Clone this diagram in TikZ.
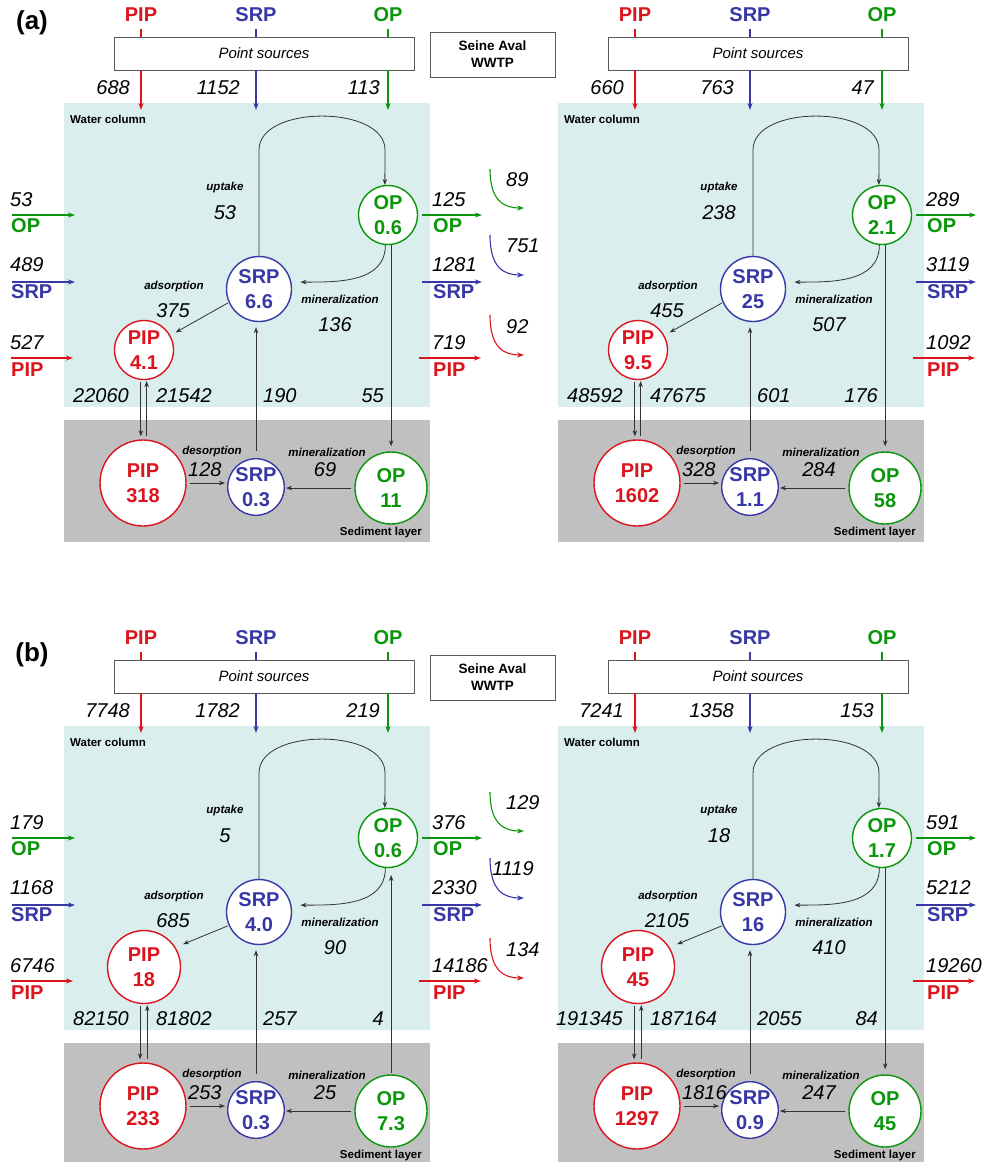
\documentclass[tikz,border=0pt]{standalone}
\usepackage{fontspec}
\setmainfont{Liberation Sans}
\usetikzlibrary{arrows.meta}
\definecolor{cpip}{RGB}{220,20,30}
\definecolor{csrp}{RGB}{55,55,165}
\definecolor{cop}{RGB}{10,150,10}
\definecolor{water}{RGB}{218,238,238}
\definecolor{sed}{RGB}{192,192,192}
\tikzset{
  big/.style={font=\fontsize{20}{26}\selectfont\bfseries, inner sep=0pt},
  num/.style={font=\fontsize{20}{24}\selectfont\itshape, inner sep=0pt},
  proc/.style={font=\fontsize{11.5}{13}\selectfont\bfseries\itshape, inner sep=0pt},
  lbl/.style={font=\fontsize{11.5}{13}\selectfont\bfseries, inner sep=0pt},
  panel/.style={font=\fontsize{26}{30}\selectfont\bfseries, inner sep=0pt},
  srcbox/.style={draw=black!65, line width=0.9pt, fill=white, inner sep=0pt, align=center},
  pool/.style={circle, fill=white, line width=1.4pt, inner sep=0pt, align=center, font=\fontsize{20}{25}\selectfont\bfseries},
  flow/.style={-{Stealth[length=6pt,width=4.5pt]}, line width=0.8pt, black!80},
  cflow/.style={-{Stealth[length=7pt,width=5pt]}, line width=1.3pt},
  cline/.style={line width=1.3pt},
}
\newif\ifopup
\def\pfx{aL}
\def\sedbot{542}
\def\pipy{350}
\def\pipd{59pt}
\def\adsy{287}
\def\adsny{311}
\def\adsang{29}
\def\adsgap{6pt}
% ---------- frame of one panel ----------
\newcommand{\panelframe}[3]{%
  \fill[water] (64,103) rectangle (430,407);
  \fill[sed] (64,420) rectangle (430,\sedbot);
  \node[lbl, anchor=west] (\pfx-wc) at (70,119) {Water column};
  \node[lbl, anchor=east] (\pfx-sl) at (422,533) {Sediment layer};
  \node[srcbox, minimum width=300pt, minimum height=33pt, font=\fontsize{15}{18}\selectfont\itshape] (\pfx-ps) at (264,53.5) {Point sources};
  \node[big, text=cpip] (\pfx-tP) at (141,15) {PIP};
  \node[big, text=csrp] (\pfx-tS) at (256,15) {SRP};
  \node[big, text=cop] (\pfx-tO) at (388,15) {OP};
  \coordinate (\pfx-kP) at (141,29);
  \coordinate (\pfx-kS) at (256,29);
  \coordinate (\pfx-kO) at (388,29);
  \coordinate (\pfx-eP) at (141,110);
  \coordinate (\pfx-eS) at (256,110);
  \coordinate (\pfx-eO) at (388,110);
  \draw[cline, cpip] (\pfx-kP) -- (\pfx-kP |- \pfx-ps.north);
  \draw[cline, csrp] (\pfx-kS) -- (\pfx-kS |- \pfx-ps.north);
  \draw[cline, cop] (\pfx-kO) -- (\pfx-kO |- \pfx-ps.north);
  \draw[cflow, cpip] (\pfx-kP |- \pfx-ps.south) -- (\pfx-eP);
  \draw[cflow, csrp] (\pfx-kS |- \pfx-ps.south) -- (\pfx-eS);
  \draw[cflow, cop] (\pfx-kO |- \pfx-ps.south) -- (\pfx-eO);
  \node[num, anchor=east] (\pfx-nP) at (130,88) {#1};
  \node[num, anchor=east] (\pfx-nS) at (240,88) {#2};
  \node[num, anchor=east] (\pfx-nO) at (380,88) {#3};
}
% ---------- pools ----------
\newcommand{\panelpools}[6]{%
  \node[pool, draw=cop, text=cop, minimum size=59pt] (\pfx-OPw) at (388,215) {OP\\#1};
  \node[pool, draw=csrp, text=csrp, minimum size=65pt] (\pfx-SRPw) at (259,289) {SRP\\#2};
  \node[pool, draw=cpip, text=cpip, minimum size=\pipd] (\pfx-PIPw) at (144,\pipy) {PIP\\#3};
  \node[pool, draw=cpip, text=cpip, minimum size=86pt] (\pfx-PIPs) at (143,483) {PIP\\#4};
  \node[pool, draw=csrp, text=csrp, minimum size=56pt] (\pfx-SRPs) at (256,487) {SRP\\#5};
  \node[pool, draw=cop, text=cop, minimum size=72pt] (\pfx-OPs) at (391,488) {OP\\#6};
}
% ---------- internal fluxes ----------
\newcommand{\panelarrows}{%
  \draw[flow] (\pfx-SRPw.north) -- ++(0,-106) .. controls +(0,-45) and +(0,-45) .. ++(126,0) -- (\pfx-OPw.96);
  \draw[flow, shorten >=9pt] (\pfx-OPw.265) .. controls +(0,38) and +(45,0) .. (\pfx-SRPw.12);
  \draw[flow, shorten <=1pt, shorten >=\adsgap] (\pfx-SRPw.204) -- (\pfx-PIPw.\adsang);
  \draw[flow, shorten <=2pt, shorten >=3pt] (\pfx-PIPw.264) -- (\pfx-PIPw.264 |- \pfx-PIPs.north);
  \draw[flow, shorten <=3pt, shorten >=1pt] (\pfx-PIPw.275 |- \pfx-PIPs.north) -- (\pfx-PIPw.275);
  \draw[flow, shorten <=7pt, shorten >=5pt] (\pfx-SRPs.north) -- (\pfx-SRPs.north |- \pfx-SRPw.south);
  \draw[flow, shorten <=3pt, shorten >=2pt] (\pfx-PIPs.east) -- (\pfx-PIPs.east -| \pfx-SRPs.west);
  \draw[flow, shorten <=3pt, shorten >=1pt] (\pfx-OPs.west) -- (\pfx-OPs.west -| \pfx-SRPs.east);
  \ifopup
    \draw[flow, shorten <=1pt, shorten >=7pt] (\pfx-OPs.north -| \pfx-OPw.276) -- (\pfx-OPw.276);
  \else
    \draw[flow, shorten >=5pt] (\pfx-OPw.276) -- (\pfx-OPs.north -| \pfx-OPw.276);
  \fi
}
% ---------- flux labels ----------
\newcommand{\panellabels}[9]{%
  \node[proc] (\pfx-lu) at (225,188) {uptake};
  \node[num] (\pfx-vu) at (225,213) {#1};
  \node[proc] (\pfx-la) at (174,\adsy) {adsorption};
  \node[num] (\pfx-va) at (173,\adsny) {#2};
  \node[proc] (\pfx-lm) at (340,299) {mineralization};
  \node[num] (\pfx-vm) at (335,325) {#3};
  \node[num, anchor=east] (\pfx-vd) at (129,396) {#4};
  \node[num, anchor=west] (\pfx-vp) at (156,396) {#5};
  \node[num, anchor=west] (\pfx-vs) at (263,396) {#6};
  \node[num, anchor=east] (\pfx-vo) at (384,396) {#7};
  \node[proc] (\pfx-ld) at (212,452) {desorption};
  \node[num, anchor=west] (\pfx-vde) at (188,470) {#8};
  \node[proc] (\pfx-ls) at (327,452) {mineralization};
  \node[num] (\pfx-vms) at (325,470) {#9};
}
% ---------- outflows on the right of a panel ----------
\newcommand{\paneloutflows}[3]{%
  \coordinate (\pfx-oO1) at (422,215); \coordinate (\pfx-oO2) at (482,215);
  \coordinate (\pfx-oS1) at (422,282); \coordinate (\pfx-oS2) at (482,282);
  \coordinate (\pfx-oP1) at (419,358); \coordinate (\pfx-oP2) at (481,358);
  \draw[cflow, cop] (\pfx-oO1) -- (\pfx-oO2);
  \draw[cflow, csrp] (\pfx-oS1) -- (\pfx-oS2);
  \draw[cflow, cpip] (\pfx-oP1) -- (\pfx-oP2);
  \node[num, anchor=west] (\pfx-oOn) at (432,200) {#1};
  \node[big, anchor=west, text=cop] (\pfx-oOl) at (433,226) {OP};
  \node[num, anchor=west] (\pfx-oSn) at (432,265) {#2};
  \node[big, anchor=west, text=csrp] (\pfx-oSl) at (433,292) {SRP};
  \node[num, anchor=west] (\pfx-oPn) at (432,343) {#3};
  \node[big, anchor=west, text=cpip] (\pfx-oPl) at (433,370) {PIP};
}
% ---------- inflows on the left ----------
\newcommand{\inflows}[3]{%
  \coordinate (\pfx-iO1) at (12,215); \coordinate (\pfx-iO2) at (75,215);
  \coordinate (\pfx-iS1) at (12,282); \coordinate (\pfx-iS2) at (75,282);
  \coordinate (\pfx-iP1) at (11,358); \coordinate (\pfx-iP2) at (73,358);
  \draw[cflow, cop] (\pfx-iO1) -- (\pfx-iO2);
  \draw[cflow, csrp] (\pfx-iS1) -- (\pfx-iS2);
  \draw[cflow, cpip] (\pfx-iP1) -- (\pfx-iP2);
  \node[num, anchor=west] (\pfx-iOn) at (10,200) {#1};
  \node[big, anchor=west, text=cop] (\pfx-iOl) at (11,226) {OP};
  \node[num, anchor=west] (\pfx-iSn) at (10,265) {#2};
  \node[big, anchor=west, text=csrp] (\pfx-iSl) at (11,292) {SRP};
  \node[num, anchor=west] (\pfx-iPn) at (10,343) {#3};
  \node[big, anchor=west, text=cpip] (\pfx-iPl) at (11,370) {PIP};
}
% ---------- WWTP box and curved arrows ----------
\newcommand{\wwtp}[4]{%
  \node[srcbox, minimum width=125pt, minimum height=45pt, font=\fontsize{13.5}{17}\selectfont\bfseries] (\pfx-ww) at (492.5,54.5) {Seine Aval\\WWTP};
  \coordinate (\pfx-cO1) at (490,169); \coordinate (\pfx-cO2) at (524,208);
  \coordinate (\pfx-cS1) at (490,235); \coordinate (\pfx-cS2) at (524,275);
  \coordinate (\pfx-cP1) at (490,315); \coordinate (\pfx-cP2) at (524,355);
  \draw[cflow, cop, line width=1.1pt] (\pfx-cO1) .. controls +(0,32) and +(-20,0) .. (\pfx-cO2);
  \draw[cflow, csrp, line width=1.1pt] (\pfx-cS1) .. controls +(0,33) and +(-20,0) .. (\pfx-cS2);
  \draw[cflow, cpip, line width=1.1pt] (\pfx-cP1) .. controls +(0,33) and +(-20,0) .. (\pfx-cP2);
  \node[num, anchor=west] (\pfx-cOn) at (506,180) {#1};
  \node[num, anchor=west] (\pfx-cSn) at (#4,246) {#2};
  \node[num, anchor=west] (\pfx-cPn) at (506,327) {#3};
}
\begin{document}
\begin{tikzpicture}[x=1pt,y=-1pt]
\useasboundingbox (0,0) rectangle (995,1162);
\fill[white] (0,0) rectangle (995,1162);
\node[panel] (pa) at (32,23) {(a)};
\node[panel] (pb) at (32,655) {(b)};
% ===== (a) left =====
\begin{scope}
  \def\pfx{aL}\def\sedbot{542}\def\pipy{350}\def\pipd{59pt}
  \def\adsy{287}\def\adsny{311}\def\adsang{29}\def\adsgap{6pt}\opupfalse
  \panelframe{688}{1152}{113}
  \panelpools{0.6}{6.6}{4.1}{318}{0.3}{11}
  \panelarrows
  \panellabels{53}{375}{136}{22060}{21542}{190}{55}{128}{69}
  \paneloutflows{125}{1281}{719}
  \inflows{53}{489}{527}
  \wwtp{89}{751}{92}{506}
\end{scope}
% ===== (a) right =====
\begin{scope}[shift={(494,0)}]
  \def\pfx{aR}\def\sedbot{542}\def\pipy{350}\def\pipd{59pt}
  \def\adsy{287}\def\adsny{311}\def\adsang{29}\def\adsgap{6pt}\opupfalse
  \panelframe{660}{763}{47}
  \panelpools{2.1}{25}{9.5}{1602}{1.1}{58}
  \panelarrows
  \panellabels{238}{455}{507}{48592}{47675}{601}{176}{328}{284}
  \paneloutflows{289}{3119}{1092}
\end{scope}
% ===== (b) left =====
\begin{scope}[shift={(0,623)}]
  \def\pfx{bL}\def\sedbot{540}\def\pipy{344}\def\pipd{73pt}
  \def\adsy{274}\def\adsny{298}\def\adsang{32}\def\adsgap{8pt}\opuptrue
  \panelframe{7748}{1782}{219}
  \panelpools{0.6}{4.0}{18}{233}{0.3}{7.3}
  \panelarrows
  \panellabels{5}{685}{90}{82150}{81802}{257}{4}{253}{25}
  \paneloutflows{376}{2330}{14186}
  \inflows{179}{1168}{6746}
  \wwtp{129}{1119}{134}{492}
\end{scope}
% ===== (b) right =====
\begin{scope}[shift={(494,623)}]
  \def\pfx{bR}\def\sedbot{540}\def\pipy{344}\def\pipd{73pt}
  \def\adsy{274}\def\adsny{298}\def\adsang{32}\def\adsgap{8pt}\opupfalse
  \panelframe{7241}{1358}{153}
  \panelpools{1.7}{16}{45}{1297}{0.9}{45}
  \panelarrows
  \panellabels{18}{2105}{410}{191345}{187164}{2055}{84}{1816}{247}
  \paneloutflows{591}{5212}{19260}
\end{scope}
\end{tikzpicture}
\end{document}
